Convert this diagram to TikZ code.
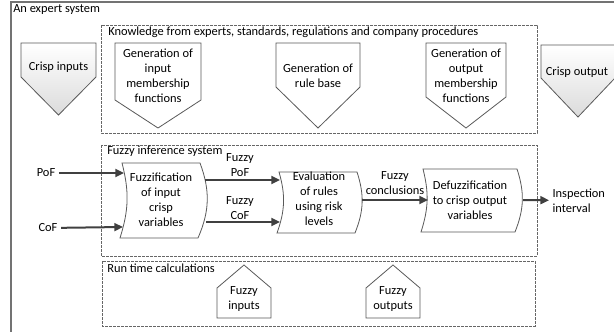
\documentclass[tikz,border=0pt]{standalone}
\usepackage{fontspec}
\setmainfont{Carlito}
\usetikzlibrary{arrows.meta}

\begin{document}
\begin{tikzpicture}[x=0.75pt,y=-0.75pt,
	every node/.style={font=\fontsize{9.3}{11.2}\selectfont,inner sep=0pt,align=center},
	rahmen/.style={draw=black!55,line width=1pt},
	gruppe/.style={draw=black!60,line width=0.6pt,dash pattern=on 2pt off 1pt},
	form/.style={draw=black!65,line width=0.6pt,fill=white},
	grau/.style={draw=black!65,line width=0.6pt,top color=white,bottom color=black!14},
	pfeil/.style={draw=black!75,line width=1.5pt,-{Triangle[length=6.5pt,width=6pt]}},
	beschr/.style={inner sep=2.5pt}]
	\useasboundingbox (0,0) rectangle (614,332);
	\draw[rahmen] (614,2) -- (11,2) -- (11,332);%Rahmen Expertensystem
	\node[anchor=north west] (expert) at (13,4) {An expert system};

	\draw[gruppe] (101,25) rectangle (537,133);%Kasten Wissen
	\node[anchor=north west] (wissen) at (108,27) {Knowledge from experts, standards, regulations and company procedures};
	\draw[grau] (21,43) -- (96,43) -- (96,77) -- (58.5,115) -- (21,77) -- cycle;%Crisp inputs
	\node (crispin) at (58.5,67) {Crisp inputs};
	\draw[form] (115,43) -- (201,43) -- (201,100) -- (158,128) -- (115,100) -- cycle;%Eingangs-MF
	\node (inmf) at (158,75.5) {Generation of\\input\\membership\\functions};
	\draw[form] (276,43) -- (360,43) -- (360,87) -- (318,128) -- (276,87) -- cycle;%Regelbasis
	\node (regel) at (318,76) {Generation of\\rule base};
	\draw[form] (426,43) -- (506,43) -- (506,97) -- (466,128) -- (426,97) -- cycle;%Ausgangs-MF
	\node (outmf) at (466,75.5) {Generation of\\output\\membership\\functions};
	\draw[grau] (541,45) -- (615,45) -- (615,78) -- (578,117) -- (541,78) -- cycle;%Crisp output
	\node (crispout) at (577,72) {Crisp output};

	\draw[gruppe] (101,145) rectangle (537,256);%Kasten FIS
	\node[anchor=north west] (fis) at (107,146) {Fuzzy inference system};
	\draw[form] (122,163) -- (200,163) to[bend left=22] (198,238) -- (120,238) to[bend right=16] (122,163) -- cycle;%Fuzzifizierung
	\node (fuzz) at (161,200) {Fuzzification\\of input\\crisp\\variables};
	\draw[form] (279,172) -- (357,172) to[bend left=20] (355,233) -- (277,233) to[bend right=18] (279,172) -- cycle;%Regelauswertung
	\node (eval) at (319,199) {Evaluation\\of rules\\using risk\\levels};
	\draw[form] (423,169) -- (517,169) to[bend left=20] (515,232) -- (421,232) to[bend right=16] (423,169) -- cycle;%Defuzzifizierung
	\node (defuzz) at (470,200) {Defuzzification\\to crisp output\\variables};
	\coordinate (fuzzEin1) at (124,173);
	\coordinate (fuzzEin2) at (123,227);
	\coordinate (fuzzAus1) at (205,180);
	\coordinate (fuzzAus2) at (206,222);
	\coordinate (evalEin1) at (280,180);
	\coordinate (evalEin2) at (280,222);
	\coordinate (evalAus) at (362,200);
	\coordinate (defEin) at (428,200);
	\coordinate (defAus) at (523,200);

	\node[beschr] (pof) at (46,173) {PoF};
	\node[beschr] (cof) at (48,228) {CoF};
	\node (fpof) at (240,165) {Fuzzy\\PoF};
	\node (fcof) at (240,208) {Fuzzy\\CoF};
	\node (fkonkl) at (395,183) {Fuzzy\\conclusions};
	\node[beschr,anchor=west,align=left] (insp) at (549,200.5) {Inspection\\interval};
	\draw[pfeil] (pof) -- (fuzzEin1);
	\draw[pfeil] (cof) -- (fuzzEin2);
	\draw[pfeil] (fuzzAus1) -- (evalEin1);%Fuzzy PoF
	\draw[pfeil] (fuzzAus2) -- (evalEin2);%Fuzzy CoF
	\draw[pfeil] (evalAus) -- (defEin);%Fuzzy conclusions
	\draw[pfeil] (defAus) -- (insp);

	\draw[gruppe] (102,261) rectangle (535,326);%Kasten Laufzeit
	\node[anchor=north west] (laufzeit) at (107,264) {Run time calculations};
	\draw[form] (217,318) -- (271,318) -- (271,288) -- (244,265) -- (217,288) -- cycle;%Fuzzy inputs
	\node (fin) at (244,299) {Fuzzy\\inputs};
	\draw[form] (366,318) -- (420,318) -- (420,288) -- (393,265) -- (366,288) -- cycle;%Fuzzy outputs
	\node (fout) at (393,299) {Fuzzy\\outputs};

\end{tikzpicture}
\end{document}
